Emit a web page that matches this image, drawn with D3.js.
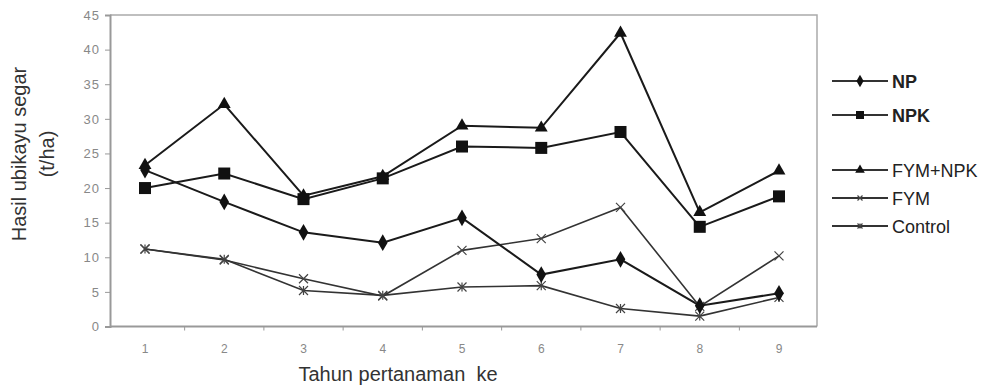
<!DOCTYPE html>
<html>
<head>
<meta charset="utf-8">
<script src="https://cdn.jsdelivr.net/npm/d3@7"></script>
<style>
  html, body { margin: 0; padding: 0; background: #fff; }
  svg { display: block; font-family: "Liberation Sans", Arial, sans-serif; }
</style>
</head>
<body>
<svg id="chart" width="986" height="388"></svg>
<script>
// Year of planting (x categories)
const years = ["1", "2", "3", "4", "5", "6", "7", "8", "9"];
// Fresh cassava yield (t/ha) per treatment
const npValues      = [22.6, 18.0, 13.6, 12.1, 15.7, 7.5, 9.7, 3.0, 4.8];
const npkValues     = [20.0, 22.1, 18.4, 21.4, 26.0, 25.8, 28.1, 14.4, 18.8];
const fymNpkValues  = [23.3, 32.1, 18.9, 21.7, 29.0, 28.7, 42.4, 16.5, 22.5];
const fymValues     = [11.2, 9.6, 6.9, 4.4, 11.0, 12.7, 17.2, 2.9, 10.2];
const controlValues = [11.2, 9.7, 5.2, 4.5, 5.7, 5.9, 2.6, 1.5, 4.2];
const yTicks = [0, 5, 10, 15, 20, 25, 30, 35, 40, 45];
const seriesNames = ["NP", "NPK", "FYM+NPK", "FYM", "Control"];

const series = [
  { name: seriesNames[0], values: npValues, marker: "diamond", bold: true },
  { name: seriesNames[1], values: npkValues, marker: "square", bold: true },
  { name: seriesNames[2], values: fymNpkValues, marker: "triangle", bold: false },
  { name: seriesNames[3], values: fymValues, marker: "cross", bold: false },
  { name: seriesNames[4], values: controlValues, marker: "star", bold: false }
];

const svg = d3.select("#chart");
const plot = { left: 110, right: 817, top: 15, bottom: 326.5 };

const x = d3.scalePoint().domain(years).range([145, 779]);
const y = d3.scaleLinear().domain([0, 45]).range([plot.bottom, plot.top]);

// Plot frame: top and right borders
svg.append("path")
  .attr("d", `M${plot.left},${plot.top}H${plot.right}V${plot.bottom}`)
  .attr("fill", "none").attr("stroke", "#aaa").attr("stroke-width", 1.5);

// Y axis
const yAxis = svg.append("g").attr("transform", `translate(${plot.left},0)`)
  .call(d3.axisLeft(y).tickValues(yTicks).tickSize(5).tickPadding(5));
yAxis.select(".domain").attr("stroke", "#999").attr("stroke-width", 2);
yAxis.selectAll(".tick line").attr("stroke", "#999");
yAxis.selectAll(".tick text").attr("fill", "#888").attr("font-size", 13)
  .attr("letter-spacing", 1);

// X axis: tick marks between categories, labels under each category
const step = x.step();
const xAxisG = svg.append("g").attr("transform", `translate(0,${plot.bottom})`);
xAxisG.append("line").attr("x1", plot.left).attr("x2", plot.right)
  .attr("stroke", "#999").attr("stroke-width", 2);
xAxisG.selectAll(".sep").data(years.slice(0, -1)).join("line")
  .attr("x1", d => x(d) + step / 2).attr("x2", d => x(d) + step / 2)
  .attr("y1", 0).attr("y2", 4).attr("stroke", "#999");
xAxisG.selectAll(".lbl").data(years).join("text")
  .attr("x", d => x(d)).attr("y", 26)
  .attr("text-anchor", "middle").attr("font-size", 12).attr("fill", "#888")
  .text(d => d);

// Axis titles
svg.append("text").attr("x", 398).attr("y", 381).attr("text-anchor", "middle")
  .style("white-space", "pre")
  .attr("font-size", 20).attr("fill", "#333").text("Tahun pertanaman  ke");
const yTitle = svg.append("g").attr("transform", "translate(0,154) rotate(-90)");
yTitle.append("text").attr("x", 0).attr("y", 26).attr("text-anchor", "middle")
  .attr("font-size", 20).attr("fill", "#333").text("Hasil ubikayu segar");
yTitle.append("text").attr("x", 0).attr("y", 54).attr("text-anchor", "middle")
  .attr("font-size", 20).attr("fill", "#333").text("(t/ha)");

// Marker drawing
function drawMarker(g, type, s) {
  if (type === "diamond") {
    g.append("path").attr("d", d3.symbol(d3.symbolDiamond, s * 9)()).attr("fill", "#111");
  } else if (type === "square") {
    g.append("rect").attr("x", -s / 2 - 1).attr("y", -s / 2 - 1)
      .attr("width", s + 2).attr("height", s + 2).attr("fill", "#111");
  } else if (type === "triangle") {
    g.append("path").attr("d", d3.symbol(d3.symbolTriangle, s * 8)()).attr("fill", "#111");
  } else if (type === "cross") {
    const r = s / 2;
    g.append("path").attr("d", `M${-r},${-r}L${r},${r}M${-r},${r}L${r},${-r}`)
      .attr("stroke", "#444").attr("stroke-width", 1.2);
  } else if (type === "star") {
    const r = s / 2;
    g.append("path").attr("d", `M${-r},${-r}L${r},${r}M${-r},${r}L${r},${-r}M0,${-r}V${r}`)
      .attr("stroke", "#444").attr("stroke-width", 1.2);
  }
}

const line = d3.line().x((d, i) => x(years[i])).y(d => y(d));

// Series: lines first, markers on top
series.slice().reverse().forEach(s => {
  const thin = s.marker === "cross" || s.marker === "star";
  svg.append("path").datum(s.values)
    .attr("d", line).attr("fill", "none")
    .attr("stroke", thin ? "#333" : "#1a1a1a")
    .attr("stroke-width", thin ? 1.6 : 2);
});
series.slice().reverse().forEach(s => {
  const size = s.marker === "square" ? 10 : 9;
  s.values.forEach((v, i) => {
    const g = svg.append("g").attr("transform", `translate(${x(years[i])},${y(v)})`);
    drawMarker(g, s.marker, size);
  });
});

// Legend
const legendY = [81, 115, 170, 198, 226];
series.forEach((s, i) => {
  const g = svg.append("g").attr("transform", `translate(0,${legendY[i]})`);
  g.append("line").attr("x1", 832).attr("x2", 888).attr("y1", 0).attr("y2", 0)
    .attr("stroke", "#333").attr("stroke-width", 2);
  const m = g.append("g").attr("transform", "translate(860,0)");
  drawMarker(m, s.marker, s.marker === "square" ? 6 : 5);
  g.append("text").attr("x", 892).attr("y", 6.5)
    .attr("font-size", 18).attr("font-weight", s.bold ? "bold" : "normal")
    .attr("fill", "#222").text(s.name);
});
</script>
</body>
</html>
